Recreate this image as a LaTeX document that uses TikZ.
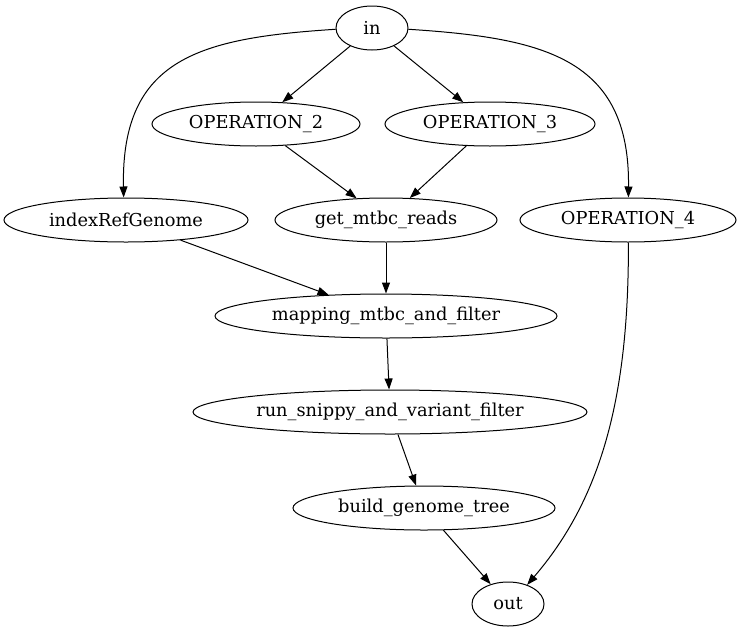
\documentclass[tikz,border=0pt]{standalone}
\usepackage{fontspec}
\setmainfont{DejaVu Serif}
\usetikzlibrary{shapes.geometric,arrows.meta}
\begin{document}
\begin{tikzpicture}[x=1pt,y=-1pt,
  proc/.style={ellipse,draw,line width=1pt,inner sep=0pt,minimum height=44pt,
    font=\fontsize{17.8}{21}\selectfont},
  edge/.style={draw,line width=1pt,-{Triangle[length=11pt,width=8pt]}}]
\useasboundingbox (0,0) rectangle (739,635);
% workflow steps
\node[proc,minimum width=72pt]  (in)    at (372,28)  {in};
\node[proc,minimum width=208pt] (op2)   at (256,124) {OPERATION\_2};
\node[proc,minimum width=210pt] (op3)   at (490,124) {OPERATION\_3};
\node[proc,minimum width=244pt] (index) at (126,220) {indexRefGenome};
\node[proc,minimum width=222pt] (reads) at (386,220) {get\_mtbc\_reads};
\node[proc,minimum width=216pt] (op4)   at (628,220) {OPERATION\_4};
\node[proc,minimum width=342pt] (map)   at (386,316) {mapping\_mtbc\_and\_filter};
\node[proc,minimum width=394pt] (snippy) at (390,412) {run\_snippy\_and\_variant\_filter};
\node[proc,minimum width=262pt] (tree)  at (424,508) {build\_genome\_tree};
\node[proc,minimum width=72pt]  (out)   at (508,604) {out};
% dependencies
\path[edge] (in) -- (op2);
\path[edge] (in) -- (op3);
\path[edge] (in.182) .. controls (200,38) and (121,58) .. (index.96);
\path[edge] (in.-2) .. controls (544,38) and (630,58) .. (op4.89);
\path[edge] (op2) -- (reads);
\path[edge] (op3) -- (reads);
\path[edge] (index) -- (map);
\path[edge] (reads) -- (map);
\path[edge] (op4.-89) .. controls (629,400) and (600,500) .. (out.45);
\path[edge] (map) -- (snippy);
\path[edge] (snippy) -- (tree);
\path[edge] (tree) -- (out);
\end{tikzpicture}
\end{document}
